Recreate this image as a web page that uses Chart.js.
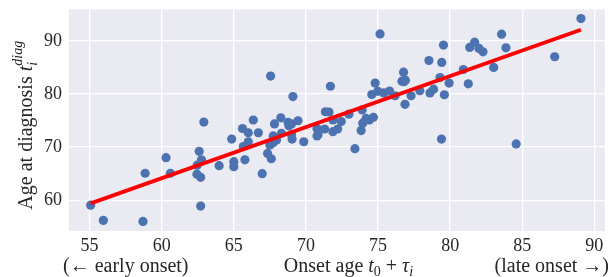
<!DOCTYPE html>
<html>
<head>
<meta charset="utf-8">
<script src="https://cdn.jsdelivr.net/npm/chart.js@4/dist/chart.umd.min.js"></script>
<style>
  body { margin: 0; background: #fff; }
  #wrap { width: 611px; height: 277px; }
</style>
</head>
<body>
<div id="wrap"><canvas id="onset-chart" width="611" height="277"></canvas></div>
<script>
// values
const onsetAge = [55.07, 55.95, 58.7, 62.7, 58.85, 60.3, 60.6, 62.6, 62.76, 62.46, 62.44, 62.7, 62.92, 63.98,
    64.85, 65.0, 65.0, 65.6, 65.77, 66.0, 66.0, 65.66, 66.35, 66.7, 66.97, 67.34, 67.6, 67.82, 68.26, 67.73,
    67.96, 67.5, 67.73, 68.3, 67.55, 69.1, 68.76, 69.0, 69.45, 68.82, 69.0, 69.04, 69.85, 70.77, 71.3, 70.84,
    70.77, 71.35, 71.6, 71.7, 71.87, 72.45, 72.98, 73.9, 71.87, 72.2, 73.83, 73.94, 74.17, 74.4, 74.68, 73.4,
    74.8, 74.57, 74.98, 75.4, 75.8, 76.18, 77.29, 76.87, 77.9, 76.77, 76.66, 76.8, 76.9, 75.14, 78.6, 78.85,
    79.6, 79.3, 79.93, 81.26, 80.92, 79.42, 78.53, 79.54, 81.7, 81.36, 82.0, 82.28, 83.57, 83.87, 83.02,
    87.25, 89.07, 79.4, 84.58];
const diagAge = [59.06, 56.2, 56.0, 58.9, 65.07, 68.0, 65.07, 69.2, 67.6, 66.6, 64.9, 64.3, 74.7, 66.5,
    71.5, 67.25, 66.3, 73.5, 67.6, 72.7, 71.0, 70.1, 75.1, 72.7, 65.0, 68.8, 67.8, 74.35, 75.5, 72.1,
    71.33, 70.4, 70.83, 72.6, 83.36, 79.5, 74.65, 74.35, 74.96, 74.0, 72.3, 71.5, 71.0, 73.5, 73.4, 72.3,
    72.1, 76.65, 76.6, 81.45, 75.1, 74.8, 76.2, 77.0, 72.9, 73.4, 73.1, 74.5, 75.4, 75.1, 75.6, 69.7,
    82.05, 79.9, 80.5, 80.2, 80.55, 79.66, 79.66, 78.04, 80.6, 84.1, 82.4, 82.3, 82.6, 91.3, 80.2, 80.9,
    79.85, 83.1, 82.05, 81.9, 84.6, 85.93, 86.3, 89.2, 89.75, 88.76, 88.57, 87.93, 91.26, 88.68, 85.0,
    87.0, 94.2, 71.5, 70.6];

// regression line end points
const fitOnset = [55.07, 89.07];
const fitDiag = [59.4, 92.1];

const xTickVals = [55, 60, 65, 70, 75, 80, 85, 90];
const yTickVals = [60, 70, 80, 90];

const TEXT = "#262626";
const SERIF = "'Liberation Serif', 'DejaVu Serif', serif";

// draw a run of text pieces; a piece with stack:true shares its x with the next piece
const drawRich = (ctx, parts, x, y, align) => {
    const widthOf = (p) => {
        ctx.font = (p.italic ? "italic " : "") + p.size + "px " + SERIF;
        return ctx.measureText(p.text).width;
    };
    let total = 0;
    for (let i = 0; i < parts.length; i++) {
        const p = parts[i];
        if (p.stack) {
            total += Math.max(widthOf(p), widthOf(parts[i + 1]));
            i++;
        } else {
            total += widthOf(p);
        }
    }
    let cx = align === "center" ? x - total / 2 : align === "right" ? x - total : x;
    ctx.fillStyle = TEXT;
    ctx.textBaseline = "alphabetic";
    ctx.textAlign = "left";
    for (let i = 0; i < parts.length; i++) {
        const p = parts[i];
        if (p.stack) {
            const q = parts[i + 1];
            const w1 = widthOf(p);
            ctx.fillText(p.text, cx, y + (p.dy || 0));
            const w2 = widthOf(q);
            ctx.fillText(q.text, cx, y + (q.dy || 0));
            cx += Math.max(w1, w2);
            i++;
        } else {
            const w = widthOf(p);
            ctx.fillText(p.text, cx, y + (p.dy || 0));
            cx += w;
        }
    }
};

const backdrop = {
    id: "backdrop",
    beforeDraw(chart) {
        const { ctx, chartArea: a } = chart;
        ctx.save();
        ctx.fillStyle = "#EAEAF2";
        ctx.fillRect(a.left, a.top, a.right - a.left, a.bottom - a.top);
        ctx.restore();
    },
};

const axisTitles = {
    id: "axisTitles",
    afterDraw(chart) {
        const { ctx, chartArea: a } = chart;
        const s = 20;
        const sub = 14;
        ctx.save();
        const base = 272;
        drawRich(ctx, [{ text: "(\u2190 early onset)", size: s }], 63, base, "left");
        drawRich(ctx, [
            { text: "Onset age ", size: s },
            { text: "t", size: s, italic: true },
            { text: "0", size: sub, dy: 4 },
            { text: " + ", size: s },
            { text: "\u03c4", size: s, italic: true },
            { text: "i", size: sub, italic: true, dy: 4 },
        ], 348.5, base, "center");
        drawRich(ctx, [{ text: "(late onset \u2192)", size: s }], 609, base, "right");

        ctx.translate(32, (a.top + a.bottom) / 2 + 5);
        ctx.rotate(-Math.PI / 2);
        drawRich(ctx, [
            { text: "Age at diagnosis ", size: s },
            { text: "t", size: s, italic: true },
            { text: "i", size: sub, italic: true, dy: 5, stack: true },
            { text: "diag", size: sub, italic: true, dy: -10 },
        ], 0, 0, "center");
        ctx.restore();
    },
};

const points = onsetAge.map((x, i) => ({ x: x, y: diagAge[i] }));
const fitLine = fitOnset.map((x, i) => ({ x: x, y: fitDiag[i] }));

const tickFont = { family: SERIF, size: 18 };

new Chart(document.getElementById("onset-chart"), {
    type: "scatter",
    data: {
        datasets: [
            {
                type: "line",
                data: fitLine,
                borderColor: "#FF0000",
                borderWidth: 3.8,
                pointRadius: 0,
                fill: false,
            },
            {
                data: points,
                backgroundColor: "#4C72B0",
                borderWidth: 0,
                pointRadius: 4.6,
            },
        ],
    },
    options: {
        responsive: false,
        animation: false,
        layout: { padding: { top: 9.5, right: 6, left: 0, bottom: 0 } },
        plugins: {
            legend: { display: false },
            tooltip: { enabled: false },
        },
        scales: {
            x: {
                type: "linear",
                min: 53.57,
                max: 90.74,
                afterBuildTicks: (scale) => { scale.ticks = xTickVals.map((v) => ({ value: v })); },
                afterFit: (scale) => {
                    scale.height = 46;
                    scale.paddingLeft = 0;
                    scale.paddingRight = 0;
                },
                ticks: { font: tickFont, color: TEXT, padding: 4, maxRotation: 0 },
                grid: { color: "#FFFFFF", lineWidth: 1.3, drawTicks: false },
                border: { display: false },
            },
            y: {
                type: "linear",
                min: 54.2,
                max: 95.9,
                afterBuildTicks: (scale) => { scale.ticks = yTickVals.map((v) => ({ value: v })); },
                afterFit: (scale) => {
                    scale.width = 69;
                    scale.paddingTop = 0;
                    scale.paddingBottom = 0;
                },
                ticks: { font: tickFont, color: TEXT, padding: 7 },
                grid: { color: "#FFFFFF", lineWidth: 1.3, drawTicks: false },
                border: { display: false },
            },
        },
    },
    plugins: [backdrop, axisTitles],
});
</script>
</body>
</html>
